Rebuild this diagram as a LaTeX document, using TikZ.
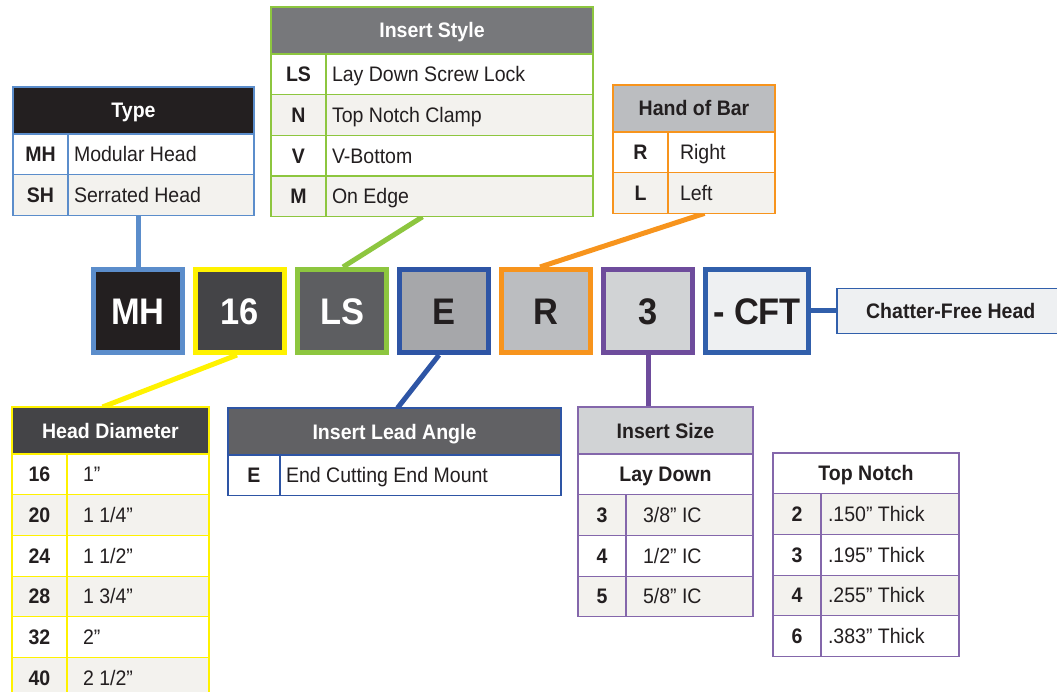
\documentclass[tikz,border=0pt]{standalone}
\usepackage{fontspec}
\setmainfont{Liberation Sans}[FakeStretch=0.93]
\usepackage{tikz}
\usetikzlibrary{positioning, backgrounds}

\definecolor{ink}{HTML}{231F20}
\definecolor{rowgray}{HTML}{F3F2EE}
\definecolor{mhblue}{HTML}{5B8DCB}
\definecolor{dyellow}{HTML}{FFF200}
\definecolor{lsgreen}{HTML}{8DC63F}
\definecolor{eblue}{HTML}{2E55A5}
\definecolor{rorange}{HTML}{F7941D}
\definecolor{spurple}{HTML}{6E4C9C}
\definecolor{cftblue}{HTML}{315FAB}
\definecolor{n16fill}{HTML}{444447}
\definecolor{lsfill}{HTML}{5D5E61}
\definecolor{efill}{HTML}{A6A7AA}
\definecolor{rfill}{HTML}{BBBDC0}
\definecolor{sfill}{HTML}{D1D3D5}
\definecolor{cftfill}{HTML}{EEF0F2}
\definecolor{stylehead}{HTML}{77787B}
\definecolor{leadhead}{HTML}{616164}

\begin{document}
\begin{tikzpicture}[x=1pt,y=-1pt]
	\tikzstyle{codebox} = [draw,line width=5pt,minimum width=89pt,minimum height=83pt,inner sep=0pt,text height=26.5pt,text depth=0pt,font=\fontsize{37}{40}\selectfont\bfseries]
	\tikzstyle{cell} = [fill=white,line width=1.2pt,outer sep=0pt,inner sep=0pt,minimum height=40.7pt,text height=15pt,text depth=0pt,text=ink,font=\fontsize{21}{24}\selectfont]
	\tikzstyle{headcell} = [cell,minimum height=47pt,anchor=north west,font=\fontsize{21}{24}\selectfont\bfseries]
	\tikzstyle{keycell} = [cell,minimum width=55pt,font=\fontsize{21}{24}\selectfont\bfseries]
	\tikzstyle{desccell} = [cell,align=flush left,inner xsep=6pt]
	\tikzstyle{grayrow} = [fill=rowgray]
	\tikzstyle{wire} = [line width=5pt]
	\useasboundingbox (0,0) rectangle (1057,692);

	% code boxes
	\node[codebox,fill=ink,draw=mhblue,text=white]	(mh) at (138,311)		{MH};
	\node[codebox,fill=n16fill,draw=dyellow,text=white]	(n16) [right=8pt of mh]	{16};
	\node[codebox,fill=lsfill,draw=lsgreen,text=white]	(ls) [right=8pt of n16]	{LS};
	\node[codebox,fill=efill,draw=eblue,text=ink]	(e) [right=8pt of ls]		{E};
	\node[codebox,fill=rfill,draw=rorange,text=ink]	(r) [right=8pt of e]		{R};
	\node[codebox,fill=sfill,draw=spurple,text=ink]	(n3) [right=8pt of r]	{3};
	\node[codebox,fill=cftfill,draw=cftblue,text=ink,minimum width=103pt]	(cft) [right=8pt of n3]	{- CFT};
	\node[draw=cftblue,fill=cftfill,line width=1.5pt,minimum width=228pt,minimum height=45pt,inner sep=0pt,text=ink,font=\fontsize{21}{24}\selectfont\bfseries]	(chatter) [right=25pt of cft]	{Chatter-Free Head};

	% Type
	\begin{scope}[every node/.append style={draw=mhblue}]
	\node[headcell,minimum width=241pt,fill=ink,text=white]	(type) at (13,87)	{Type};
	\node[keycell,anchor=north west]	(type-k1) at (type.south west)	{MH};
	\node[desccell,text width=174pt]	(type-d1) [right=0pt of type-k1]	{Modular Head};
	\node[keycell,grayrow]	(type-k2) [below=0pt of type-k1]	{SH};
	\node[desccell,grayrow,text width=174pt]	(type-d2) [right=0pt of type-k2]	{Serrated Head};
	\end{scope}

	% Insert Style
	\begin{scope}[every node/.append style={draw=lsgreen}]
	\node[headcell,minimum width=322pt,fill=stylehead,text=white]	(style) at (271,7)	{Insert Style};
	\node[keycell,anchor=north west]	(style-k1) at (style.south west)	{LS};
	\node[desccell,text width=255pt]	(style-d1) [right=0pt of style-k1]	{Lay Down Screw Lock};
	\node[keycell,grayrow]	(style-k2) [below=0pt of style-k1]	{N};
	\node[desccell,grayrow,text width=255pt]	(style-d2) [right=0pt of style-k2]	{Top Notch Clamp};
	\node[keycell]	(style-k3) [below=0pt of style-k2]	{V};
	\node[desccell,text width=255pt]	(style-d3) [right=0pt of style-k3]	{V-Bottom};
	\node[keycell,grayrow]	(style-k4) [below=0pt of style-k3]	{M};
	\node[desccell,grayrow,text width=255pt]	(style-d4) [right=0pt of style-k4]	{On Edge};
	\end{scope}

	% Hand of Bar
	\begin{scope}[every node/.append style={draw=rorange}]
	\node[headcell,minimum width=162pt,fill=rfill]	(hand) at (613,85)	{Hand of Bar};
	\node[keycell,anchor=north west]	(hand-k1) at (hand.south west)	{R};
	\node[desccell,inner xsep=12pt,text width=83pt]	(hand-d1) [right=0pt of hand-k1]	{Right};
	\node[keycell,grayrow]	(hand-k2) [below=0pt of hand-k1]	{L};
	\node[desccell,grayrow,inner xsep=12pt,text width=83pt]	(hand-d2) [right=0pt of hand-k2]	{Left};
	\end{scope}

	% Head Diameter
	\begin{scope}[every node/.append style={draw=dyellow}]
	\node[headcell,minimum width=197pt,fill=n16fill,text=white]	(dia) at (12,407)	{Head Diameter};
	\node[keycell,anchor=north west]	(dia-k1) at (dia.south west)	{16};
	\node[desccell,inner xsep=16pt,text width=110pt]	(dia-d1) [right=0pt of dia-k1]	{1”};
	\node[keycell,grayrow]	(dia-k2) [below=0pt of dia-k1]	{20};
	\node[desccell,grayrow,inner xsep=16pt,text width=110pt]	(dia-d2) [right=0pt of dia-k2]	{1 1/4”};
	\node[keycell]	(dia-k3) [below=0pt of dia-k2]	{24};
	\node[desccell,inner xsep=16pt,text width=110pt]	(dia-d3) [right=0pt of dia-k3]	{1 1/2”};
	\node[keycell,grayrow]	(dia-k4) [below=0pt of dia-k3]	{28};
	\node[desccell,grayrow,inner xsep=16pt,text width=110pt]	(dia-d4) [right=0pt of dia-k4]	{1 3/4”};
	\node[keycell]	(dia-k5) [below=0pt of dia-k4]	{32};
	\node[desccell,inner xsep=16pt,text width=110pt]	(dia-d5) [right=0pt of dia-k5]	{2”};
	\node[keycell,grayrow]	(dia-k6) [below=0pt of dia-k5]	{40};
	\node[desccell,grayrow,inner xsep=16pt,text width=110pt]	(dia-d6) [right=0pt of dia-k6]	{2 1/2”};
	\end{scope}

	% Insert Lead Angle
	\begin{scope}[every node/.append style={draw=eblue}]
	\node[headcell,minimum width=333pt,fill=leadhead,text=white]	(lead) at (228,408)	{Insert Lead Angle};
	\node[keycell,anchor=north west,minimum width=52pt]	(lead-k1) at (lead.south west)	{E};
	\node[desccell,text width=269pt]	(lead-d1) [right=0pt of lead-k1]	{End Cutting End Mount};
	\end{scope}

	% Insert Size
	\begin{scope}[every node/.append style={draw=spurple!85}]
	\node[headcell,minimum width=175pt,fill=sfill]	(size) at (578,407)	{Insert Size};
	\node[headcell,minimum width=175pt,minimum height=40.7pt]	(size-sub) at (size.south west)	{Lay Down};
	\node[keycell,grayrow,anchor=north west,minimum width=48pt]	(size-k1) at (size-sub.south west)	{3};
	\node[desccell,grayrow,inner xsep=17pt,text width=93pt]	(size-d1) [right=0pt of size-k1]	{3/8” IC};
	\node[keycell,minimum width=48pt]	(size-k2) [below=0pt of size-k1]	{4};
	\node[desccell,inner xsep=17pt,text width=93pt]	(size-d2) [right=0pt of size-k2]	{1/2” IC};
	\node[keycell,grayrow,minimum width=48pt]	(size-k3) [below=0pt of size-k2]	{5};
	\node[desccell,grayrow,inner xsep=17pt,text width=93pt]	(size-d3) [right=0pt of size-k3]	{5/8” IC};

	% Top Notch
	\node[headcell,minimum width=186pt,minimum height=40.7pt]	(notch) at (773,453)	{Top Notch};
	\node[keycell,grayrow,anchor=north west,minimum width=48pt]	(notch-k1) at (notch.south west)	{2};
	\node[desccell,grayrow,inner xsep=7pt,text width=124pt]	(notch-d1) [right=0pt of notch-k1]	{.150” Thick};
	\node[keycell,minimum width=48pt]	(notch-k2) [below=0pt of notch-k1]	{3};
	\node[desccell,inner xsep=7pt,text width=124pt]	(notch-d2) [right=0pt of notch-k2]	{.195” Thick};
	\node[keycell,grayrow,minimum width=48pt]	(notch-k3) [below=0pt of notch-k2]	{4};
	\node[desccell,grayrow,inner xsep=7pt,text width=124pt]	(notch-d3) [right=0pt of notch-k3]	{.255” Thick};
	\node[keycell,minimum width=48pt]	(notch-k4) [below=0pt of notch-k3]	{6};
	\node[desccell,inner xsep=7pt,text width=124pt]	(notch-d4) [right=0pt of notch-k4]	{.383” Thick};
	\end{scope}

	% connectors
	\begin{scope}[on background layer]
	\draw[wire,mhblue]	(mh.north) -- (mh.north |- type-k2.south);
	\draw[wire,lsgreen]	([xshift=-37pt]style-d4.south) -- ([xshift=1pt]ls.north);
	\draw[wire,rorange]	([xshift=-17pt]hand-d2.south) -- ([xshift=-6pt]r.north);
	\draw[wire,dyellow]	([xshift=-3pt]n16.south) -- ([xshift=-8pt]dia.north);
	\draw[wire,eblue]	([xshift=-5pt]e.south) -- ([xshift=3pt]lead.north);
	\draw[wire,spurple]	(n3.south) -- (n3.south |- size.north);
	\draw[wire,cftblue]	(cft) -- (chatter);
	\end{scope}
\end{tikzpicture}
\end{document}
